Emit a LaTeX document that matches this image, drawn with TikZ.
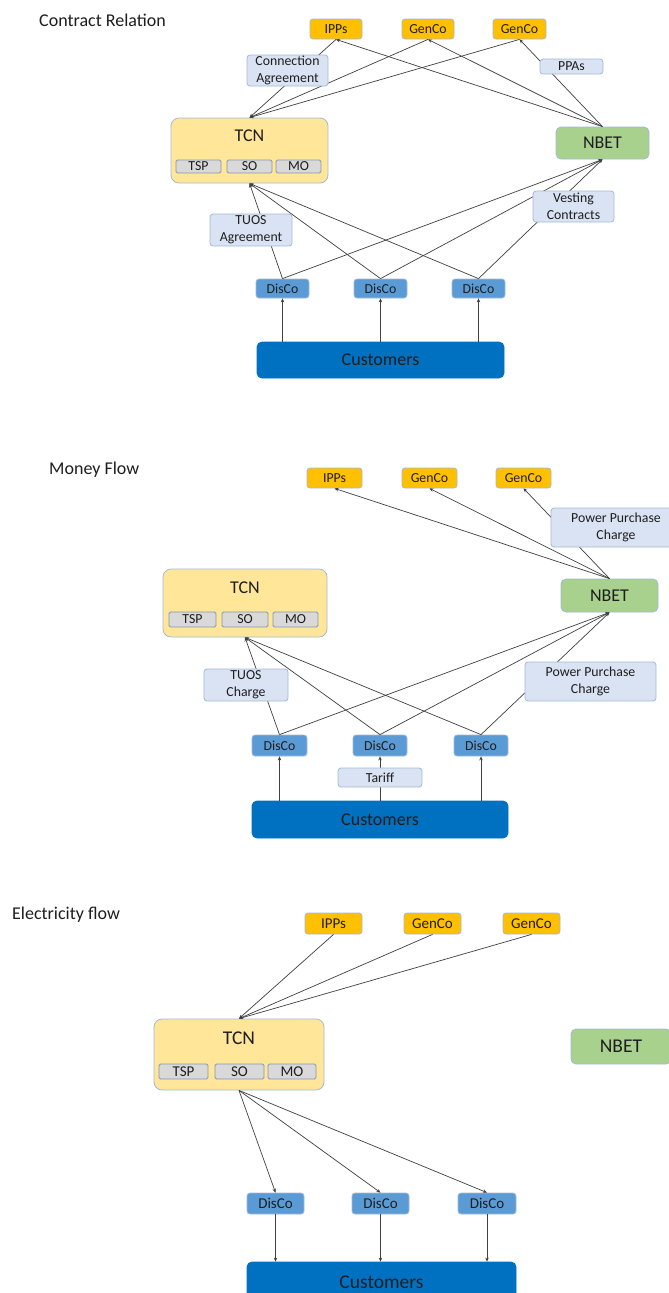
\documentclass[tikz,border=0pt]{standalone}
\usepackage{fontspec}
\setmainfont{Carlito}
\usetikzlibrary{arrows.meta}
\definecolor{goldc}{HTML}{FFC000}
\definecolor{lblc}{HTML}{DAE3F3}
\definecolor{tcnc}{HTML}{FFE699}
\definecolor{subc}{HTML}{D9D9D9}
\definecolor{nbetc}{HTML}{A9D18E}
\definecolor{discoc}{HTML}{5B9BD5}
\definecolor{custc}{HTML}{0070C0}
\definecolor{bordc}{HTML}{A3BAD6}
\definecolor{subb}{HTML}{8497B0}
\definecolor{linec}{HTML}{404040}
\definecolor{txtc}{HTML}{1E1E1E}
\newcommand\fsA{\fontsize{13.8bp}{16.7bp}\selectfont}
\newcommand\fsB{\fontsize{18bp}{21bp}\selectfont}
\newcommand\fsC{\fontsize{15bp}{18bp}\selectfont}
\newcommand\fsD{\fontsize{19.5bp}{23bp}\selectfont}
\tikzset{
  wh/.style 2 args={minimum width=#1bp, minimum height=#2bp},
  bx/.style={draw=bordc, line width=0.8bp, rounded corners=3bp, inner sep=0pt, align=center, text=txtc, font=\fsA},
  genbox/.style={bx, fill=goldc},
  lblbox/.style={bx, fill=lblc},
  tcnbox/.style={bx, fill=tcnc, rounded corners=8bp},
  subbox/.style={bx, fill=subc, draw=subb, rounded corners=1.5bp},
  nbetbox/.style={bx, fill=nbetc, rounded corners=5bp, font=\fsB},
  discobox/.style={bx, fill=discoc, rounded corners=3bp},
  custbox/.style={bx, fill=custc, draw=custc, rounded corners=5bp, font=\fsB},
  ttl/.style={anchor=base west, inner sep=0pt, text=txtc, font=\fsB},
  big/.style={inner sep=0pt, text=txtc, font=\fsB},
  ln/.style={draw=linec, line width=0.7bp},
  arr/.style={-{Stealth[length=4bp,width=3.5bp]}},
}
\begin{document}
\begin{tikzpicture}[x=1bp,y=-1bp]
\useasboundingbox (0,0) rectangle (669,1293);
\fill[white] (0,0) rectangle (669,1293);
% ================= Panel 1: Contract Relation =================
\node[ttl] (t1) at (39,26) {Contract Relation};
\node[genbox, wh={52}{20}] (ipp1) at (336,29) {IPPs};
\node[genbox, wh={52}{20}] (gen1a) at (428,29) {GenCo};
\node[genbox, wh={53}{20}] (gen1b) at (519.5,29) {GenCo};
\node[tcnbox, wh={157}{65}] (tcn1) at (249.5,150.5) {};
\node[big] (tcn1t) at (249.5,136) {TCN};
\node[subbox, wh={45}{13}] (tsp1) at (198.5,166.5) {TSP};
\node[subbox, wh={45}{13}] (so1) at (249.5,166.5) {SO};
\node[subbox, wh={45}{13}] (mo1) at (298.5,166.5) {MO};
\node[nbetbox, wh={93}{32}] (nbet1) at (602.5,143) {NBET};
\node[discobox, wh={53}{19}] (d1a) at (282.5,288.5) {DisCo};
\node[discobox, wh={53}{19}] (d1b) at (380.5,288.5) {DisCo};
\node[discobox, wh={53}{19}] (d1c) at (478.5,288.5) {DisCo};
\node[custbox, wh={247}{36}] (c1) at (380.5,360) {Customers};
\draw[ln,arr] (ipp1.south) -- (tcn1.north);
\draw[ln,arr] (gen1a.south) -- (tcn1.north);
\draw[ln,arr] (gen1b.south) -- (tcn1.north);
\draw[ln,arr] (nbet1.north) -- (ipp1.south);
\draw[ln,arr] (nbet1.north) -- (gen1a.south);
\draw[ln,arr] (nbet1.north) -- (gen1b.south);
\foreach \d in {d1a,d1b,d1c}{
  \draw[ln,arr] (\d.north) -- (tcn1.south);
  \draw[ln,arr] (\d.north) -- (nbet1.south);
  \draw[ln,arr] (c1.north -| \d) -- (\d.south);
}
\node[lblbox, wh={81}{31}] (ca1) at (287.5,70.5) {Connection\\Agreement};
\node[lblbox, wh={63}{15}] (ppa1) at (571.5,66.5) {PPAs};
\node[lblbox, wh={82}{32}] (tuos1) at (251,230) {TUOS\\Agreement};
\node[lblbox, wh={81}{31}] (vest1) at (573.5,206.5) {Vesting\\Contracts};
% ================= Panel 2: Money Flow =================
\node[ttl] (t2) at (49,474) {Money Flow};
\node[genbox, wh={55}{20}] (ipp2) at (334.5,478) {IPPs};
\node[genbox, wh={55}{20}] (gen2a) at (429.5,478) {GenCo};
\node[genbox, wh={55}{20}] (gen2b) at (523.5,478) {GenCo};
\node[tcnbox, wh={164}{68}] (tcn2) at (245,603) {};
\node[big] (tcn2t) at (245,588) {TCN};
\node[subbox, wh={47}{15}] (tsp2) at (192.5,619.5) {TSP};
\node[subbox, wh={46}{15}] (so2) at (245,619.5) {SO};
\node[subbox, wh={45}{15}] (mo2) at (295.5,619.5) {MO};
\node[nbetbox, wh={97}{33}] (nbet2) at (609.5,595.5) {NBET};
\node[discobox, wh={55}{21}] (d2a) at (279.5,745.5) {DisCo};
\node[discobox, wh={54}{21}] (d2b) at (380,745.5) {DisCo};
\node[discobox, wh={54}{21}] (d2c) at (481,745.5) {DisCo};
\node[custbox, wh={256}{37}] (c2) at (380,819.5) {Customers};
\draw[ln,arr] (nbet2.north) -- (ipp2.south);
\draw[ln,arr] (nbet2.north) -- (gen2a.south);
\draw[ln,arr] (nbet2.north) -- (gen2b.south);
\foreach \d in {d2a,d2b,d2c}{
  \draw[ln,arr] (\d.north) -- (tcn2.south);
  \draw[ln,arr] (\d.north) -- (nbet2.south);
  \draw[ln,arr] (c2.north -| \d) -- (\d.south);
}
\node[lblbox, wh={130}{39}] (ppc2a) at (616,527.5) {Power Purchase\\Charge};
\node[lblbox, wh={131}{39}] (ppc2b) at (590.5,681.5) {Power Purchase\\Charge};
\node[lblbox, wh={84}{32}] (tuos2) at (246,685) {TUOS\\Charge};
\node[lblbox, wh={84}{19}] (tar2) at (380,777.5) {Tariff};
% ================= Panel 3: Electricity flow =================
\node[ttl] (t3) at (12,919) {Electricity flow};
\node[genbox, wh={57}{21}, font=\fsC] (ipp3) at (333.5,923.5) {IPPs};
\node[genbox, wh={57}{21}, font=\fsC] (gen3a) at (432.5,923.5) {GenCo};
\node[genbox, wh={57}{21}, font=\fsC] (gen3b) at (531.5,923.5) {GenCo};
\node[nbetbox, wh={100}{35}, font=\fsD] (nbet3) at (621,1046.5) {NBET};
\node[tcnbox, wh={170}{71}] (tcn3) at (239,1054.5) {};
\node[big, font=\fsD] (tcn3t) at (239,1038) {TCN};
\node[subbox, wh={49}{15}, font=\fsC] (tsp3) at (183.5,1071.5) {TSP};
\node[subbox, wh={49}{15}, font=\fsC] (so3) at (239.5,1071.5) {SO};
\node[subbox, wh={48}{15}, font=\fsC] (mo3) at (292,1071.5) {MO};
\node[discobox, wh={57}{21}, font=\fsC] (d3a) at (275.5,1203.5) {DisCo};
\node[discobox, wh={57}{21}, font=\fsC] (d3b) at (380.5,1203.5) {DisCo};
\node[discobox, wh={58}{21}, font=\fsC] (d3c) at (487,1203.5) {DisCo};
\node[custbox, wh={269}{40}, font=\fsD] (c3) at (381.5,1282) {Customers};
\draw[ln,arr] (ipp3.south) -- (tcn3.north);
\draw[ln,arr] (gen3a.south) -- (tcn3.north);
\draw[ln,arr] (gen3b.south) -- (tcn3.north);
\foreach \d in {d3a,d3b,d3c}{
  \draw[ln,arr] (tcn3.south) -- (\d.north);
  \draw[ln,arr] (\d.south) -- (\d.south |- c3.north);
}
\end{tikzpicture}
\end{document}
